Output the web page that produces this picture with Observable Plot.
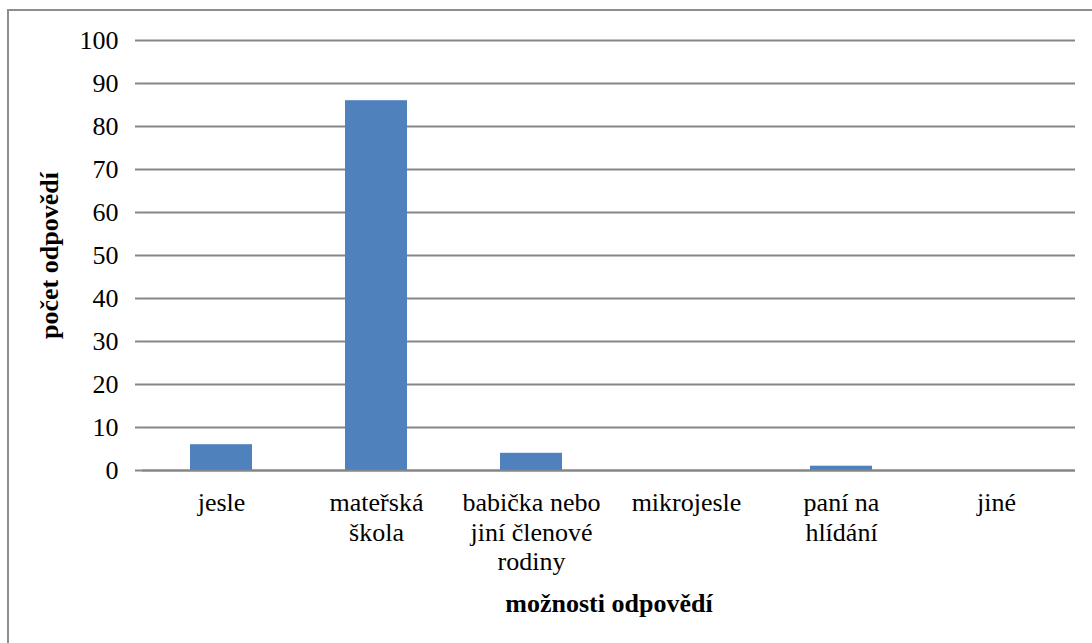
<!DOCTYPE html>
<html>
<head>
<meta charset="utf-8">
<script src="https://cdn.jsdelivr.net/npm/d3@7"></script>
<script src="https://cdn.jsdelivr.net/npm/@observablehq/plot@0.6"></script>
<style>
  html, body { margin: 0; padding: 0; background: #fff; overflow: hidden; }
  #wrap { position: relative; width: 1092px; height: 643px; overflow: hidden; }
  #frame { position: absolute; left: 7px; top: 9px; width: 2000px; height: 2000px;
           border-left: 2px solid #8e8e8e; border-top: 2px solid #8e8e8e; box-sizing: border-box; }
  #chart { position: absolute; left: 0; top: 0; width: 1092px; }
</style>
</head>
<body>
<div id="wrap"><div id="frame"></div><div id="chart"></div></div>
<script>
const categories = ["jesle", "mateřská škola", "babička nebo jiní členové rodiny", "mikrojesle", "paní na hlídání", "jiné"];
const tickLabels = ["jesle", "mateřská\nškola", "babička nebo\njiní členové\nrodiny", "mikrojesle", "paní na\nhlídání", "jiné"];
const values = [6, 86, 4, 0, 1, 0];
const yTicks = [0, 10, 20, 30, 40, 50, 60, 70, 80, 90, 100];
const xTitle = "možnosti odpovědí";
const yTitle = "počet odpovědí";

const data = categories.map((c, i) => ({category: c, value: values[i]}));
const labelOf = new Map(categories.map((c, i) => [c, tickLabels[i]]));

const FONT = "Liberation Serif";

const chart = Plot.plot({
  width: 1092,
  height: 643,
  marginLeft: 142,
  marginRight: 17,
  marginTop: 40,
  marginBottom: 173,
  style: "font-family: 'Liberation Serif', serif; font-size: 26px; background: transparent; color: #000;",
  x: {domain: categories, paddingInner: 0.6, paddingOuter: 0.3, align: 0.5},
  y: {domain: [0, 100], ticks: yTicks},
  marks: [
    Plot.gridY(yTicks, {stroke: "#868686", strokeOpacity: 1, strokeWidth: 2}),
    Plot.barY(data, {x: "category", y: "value", fill: "#4F81BD"}),
    Plot.ruleX([0], {frameAnchor: "left", stroke: "#868686", strokeWidth: 2}),
    Plot.ruleY([0], {stroke: "#868686", strokeWidth: 2}),
    Plot.axisY(yTicks, {tickSize: 7, tickPadding: 17, stroke: "#868686", strokeWidth: 2, label: null, fontSize: 26, fontFamily: FONT, fill: "#000"}),
    Plot.axisX({tickSize: 0, tickPadding: 20, label: null, tickFormat: d => labelOf.get(d), lineHeight: 1.13, fontSize: 26, fontFamily: FONT, fill: "#000"}),
    Plot.text([xTitle], {frameAnchor: "bottom", dy: 133, fontWeight: "bold", fontSize: 26, fontFamily: FONT, textAnchor: "middle", lineAnchor: "middle", fill: "#000"}),
    Plot.text([yTitle], {frameAnchor: "left", dx: -93, rotate: -90, fontWeight: "bold", fontSize: 26, fontFamily: FONT, textAnchor: "middle", lineAnchor: "middle", fill: "#000"})
  ]
});
document.getElementById("chart").appendChild(chart);
</script>
</body>
</html>
